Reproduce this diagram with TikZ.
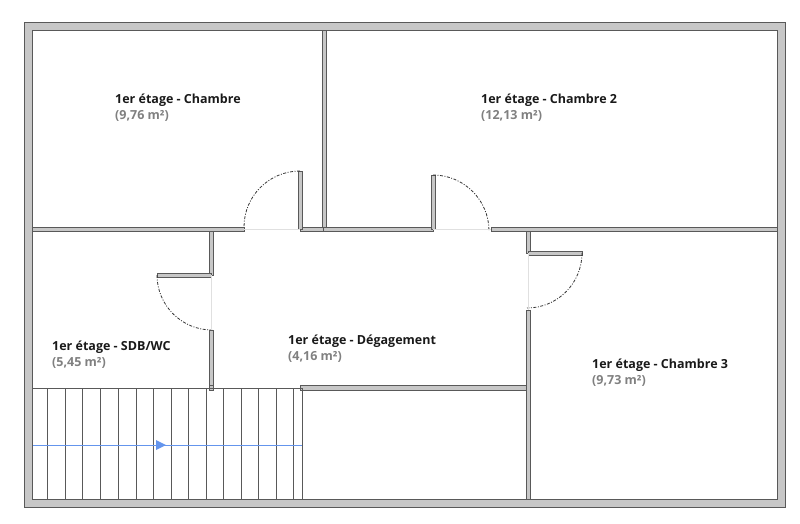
\documentclass[tikz,border=0pt]{standalone}
\usepackage{fontspec}
\setmainfont{Open Sans}
\usetikzlibrary{arrows.meta}
\begin{document}
\begin{tikzpicture}[x=1pt,y=-1pt,
  wall/.style={fill=black!22,draw=black!65,line width=0.8pt},
  leaf/.style={wall},
  swing/.style={draw=black!80,line width=0.8pt,dash pattern=on 3pt off 1.5pt on 1pt off 1.5pt},
  thin/.style={draw=black!65,line width=0.8pt},
  gap/.style={draw=black!12,line width=0.5pt},
  rname/.style={anchor=west,inner sep=1pt,font=\fontsize{12.5}{14}\selectfont\bfseries,text=black!90},
  rarea/.style={anchor=west,inner sep=1pt,font=\fontsize{12.5}{14}\selectfont\bfseries,text=black!50}]
\definecolor{arrowblue}{RGB}{100,149,237}
\useasboundingbox (0,0) rectangle (800,523);
% outer wall
\path[wall,even odd rule] (24,22) rectangle (785,507) (32,30) rectangle (777,499);
% top horizontal wall
\path[wall] (32,227) rectangle (244,231);
\path[wall] (300,227) rectangle (323,231);
\path[wall] (323,227) rectangle (433,231);
\path[wall] (491,227) rectangle (777,231);
% vertical between chambres
\path[wall] (322,30) rectangle (326,227);
% door 1
\path[leaf] (298,171) rectangle (302,229);
\draw[swing] (300,171) arc[start angle=-90,end angle=-180,radius=56];
\draw[gap] (244,229) -- (300,229);
% door 2
\path[leaf] (431,175) rectangle (435,229);
\draw[swing] (433,175) arc[start angle=-90,end angle=0,radius=56];
\draw[gap] (433,229) -- (491,229);
% right vertical wall
\path[wall] (526,231) rectangle (530,253);
\path[wall] (526,310) rectangle (530,499);
\path[leaf] (528,251) rectangle (582,255);
\draw[swing] (582,253) arc[start angle=0,end angle=90,radius=55];
\draw[gap] (528,253) -- (528,310);
% left vertical wall
\path[wall] (209,231) rectangle (213,275);
\path[leaf] (157,273) rectangle (211,277);
\draw[swing] (157,275) arc[start angle=180,end angle=90,radius=55];
\draw[gap] (211,275) -- (211,330);
\path[wall] (209,330) rectangle (213,388);
% wall below degagement
\path[wall] (300,385) rectangle (526,390);
\path[wall] (209,385) rectangle (213,390);
% room below
\draw[thin] (302,390) rectangle (526,499);
% stairs
\draw[thin] (33,388) -- (302,388);
\foreach \x in {47.5,65,82.5,100.5,118,136,153,171,188,206,223,241,258,276,293,302}
  \draw[black!65,line width=0.7pt] (\x,388) -- (\x,499);
\draw[color=arrowblue,line width=0.8pt] (33,445) coordinate (s0) -- (302,445) coordinate (s1);
\draw[draw=none,fill=arrowblue] (156,440) coordinate (ah) -- (166,445) -- (156,450) -- cycle;
% labels
\node[rname] (n1) at (114,100) {1er étage - Chambre};
\node[rarea] (a1) at (114,116) {(9,76 m²)};
\node[rname] (n2) at (480,100) {1er étage - Chambre 2};
\node[rarea] (a2) at (480,116) {(12,13 m²)};
\node[rname] (n3) at (51,347) {1er étage - SDB/WC};
\node[rarea] (a3) at (51,363) {(5,45 m²)};
\node[rname] (n4) at (287,341) {1er étage - Dégagement};
\node[rarea] (a4) at (287,357) {(4,16 m²)};
\node[rname] (n5) at (591,365) {1er étage - Chambre 3};
\node[rarea] (a5) at (591,381) {(9,73 m²)};
\end{tikzpicture}
\end{document}
